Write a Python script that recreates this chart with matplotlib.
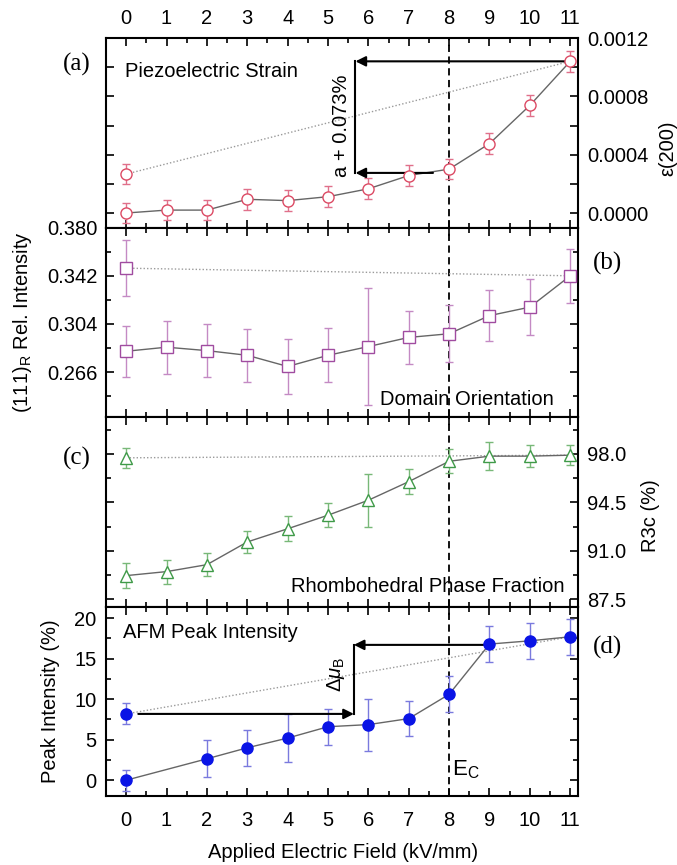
import matplotlib
matplotlib.use("Agg")
import matplotlib.pyplot as plt
from matplotlib.ticker import FixedLocator, FormatStrFormatter, MultipleLocator

plt.rcParams['font.family'] = ['Liberation Sans', 'DejaVu Sans']
plt.rcParams['mathtext.fontset'] = 'custom'
plt.rcParams['mathtext.rm'] = 'Liberation Sans'
plt.rcParams['mathtext.it'] = 'Liberation Sans:italic'

# applied field (kV/mm)
field = [0, 1, 2, 3, 4, 5, 6, 7, 8, 9, 10, 11]

# (a) piezoelectric strain eps(200)
strain = [0.0, 0.00002, 0.00002, 0.000094, 0.000085, 0.000112, 0.000166,
          0.000257, 0.000301, 0.000476, 0.000738, 0.00104]
strain_err = [0.000066, 0.00007, 0.00007, 0.000072, 0.000072, 0.000072,
              0.000072, 0.00007, 0.00007, 0.00007, 0.00007, 0.00007]
strain_ref, strain_ref_err = 0.000267, 0.000069

# (b) (111)_R relative intensity
rel_int = [0.2825, 0.2857, 0.2830, 0.2793, 0.2705, 0.2793, 0.2862,
           0.2934, 0.2963, 0.3106, 0.3173, 0.3420]
rel_err = [0.020, 0.021, 0.021, 0.021, 0.0214, 0.0213, 0.046,
           0.021, 0.0225, 0.020, 0.0218, 0.0213]
rel_ref, rel_ref_err = 0.348, 0.022

# (c) R3c phase fraction (%)
r3c = [89.21, 89.5, 90.0, 91.64, 92.59, 93.57, 94.65, 95.99, 97.46, 97.83, 97.83, 97.9]
r3c_err = [0.88, 0.86, 0.84, 0.78, 0.9, 0.88, 1.9, 0.9, 0.87, 1.03, 0.8, 0.7]
r3c_ref, r3c_ref_err = 97.71, 0.7

# (d) AFM peak intensity (%) -- no point at 1 kV/mm
afm_field = [0, 2, 3, 4, 5, 6, 7, 8, 9, 10, 11]
afm = [0.0, 2.64, 4.0, 5.2, 6.6, 6.86, 7.6, 10.6, 16.8, 17.2, 17.7]
afm_err = [1.3, 2.3, 2.2, 3.0, 2.2, 3.2, 2.2, 2.2, 2.2, 2.2, 2.2]
afm_ref, afm_ref_err = 8.18, 1.3

E_C = 8

W, H = 677, 865
left, right, top0 = 106, 577.5, 38
ph = 189.6
fig = plt.figure(figsize=(W / 100, H / 100), dpi=100)

axes = []
for i in range(4):
    t = top0 + i * ph
    ax = fig.add_axes([left / W, 1 - (t + ph) / H, (right - left) / W, ph / H])
    axes.append(ax)

line_c = '#666666'
dot_c = '#9a9a9a'
fs = 14.5

for ax in axes:
    ax.set_xlim(-0.5, 11.18)
    ax.set_xticks(field)
    ax.xaxis.set_minor_locator(MultipleLocator(0.5))
    ax.tick_params(which='both', direction='in', top=True, bottom=True,
                   left=True, right=True, labelbottom=False, labeltop=False,
                   labelleft=False, labelright=False, width=1.2, labelsize=fs)
    ax.tick_params(which='major', length=6)
    ax.tick_params(which='minor', length=3.5)
    for s in ax.spines.values():
        s.set_linewidth(1.5)
    ax.axvline(E_C, color='k', ls=(0, (4, 2.5)), lw=1.3, zorder=1)


def draw(ax, x, y, yerr, ref, ref_err, marker, col, ecol, fill):
    ax.plot([0, x[-1]], [ref, y[-1]], ls=(0, (1, 1.5)), color=dot_c, lw=1, zorder=2)
    ax.plot(x, y, color=line_c, lw=1, zorder=2)
    face = col if fill else 'white'
    ax.errorbar(x, y, yerr=yerr, fmt=marker, ms=8, mfc=face, mec=col, mew=1,
                ecolor=ecol, elinewidth=1, capsize=3, capthick=1, zorder=3)
    ax.errorbar([0], [ref], yerr=[ref_err], fmt=marker, ms=8, mfc=face, mec=col,
                mew=1, ecolor=ecol, elinewidth=1, capsize=3, capthick=1, zorder=3)


arrow = dict(arrowstyle='-|>', color='k', lw=1.5, mutation_scale=15,
             shrinkA=0, shrinkB=0)

# (a)
ax = axes[0]
draw(ax, field, strain, strain_err, strain_ref, strain_ref_err, 'o',
     '#dc4a64', '#e0708a', False)
ax.set_ylim(-0.0001, 0.0012)
ax.yaxis.set_major_locator(FixedLocator([0, 0.0004, 0.0008, 0.0012]))
ax.yaxis.set_minor_locator(FixedLocator([0.0002, 0.0006, 0.0010]))
ax.yaxis.set_major_formatter(FormatStrFormatter('%.4f'))
ax.tick_params(which='minor', axis='y', length=6)
ax.tick_params(labelright=True, labeltop=True, pad=7)
ax.set_ylabel('ε(200)', fontsize=fs)
ax.yaxis.set_label_position('right')
ax.yaxis.set_label_coords(1.172, 0.42)
xv = 5.68
ax.annotate('', xy=(xv, strain[-1]), xytext=(11, strain[-1]), arrowprops=arrow)
ax.annotate('', xy=(xv, 0.000275), xytext=(7.6, 0.000275), arrowprops=arrow)
ax.plot([xv, xv], [0.000275, strain[-1]], color='k', lw=1.5)
ax.text(5.34, 0.0006, 'a + 0.073%', rotation=90, ha='center', va='center', fontsize=fs)
ax.text(-0.02, 0.00097, 'Piezoelectric Strain', ha='left', va='center', fontsize=fs)

# (b)
ax = axes[1]
draw(ax, field, rel_int, rel_err, rel_ref, rel_ref_err, 's',
     '#a04ca0', '#c48ac4', False)
ax.set_ylim(0.2305, 0.380)
ax.yaxis.set_major_locator(FixedLocator([0.266, 0.304, 0.342, 0.380]))
ax.yaxis.set_minor_locator(FixedLocator([0.247, 0.285, 0.323, 0.361]))
ax.yaxis.set_major_formatter(FormatStrFormatter('%.3f'))
ax.tick_params(labelleft=True, pad=6)
ax.set_ylabel('(111)$_\\mathrm{R}$ Rel. Intensity', fontsize=fs)
ax.yaxis.set_label_coords(-0.1527, 0.5)
ax.text(10.59, 0.2448, 'Domain Orientation', ha='right', va='center', fontsize=fs)

# (c)
ax = axes[2]
draw(ax, field, r3c, r3c_err, r3c_ref, r3c_ref_err, '^',
     '#3f9a48', '#78b878', False)
ax.set_ylim(86.96, 100.64)
ax.yaxis.set_major_locator(FixedLocator([87.5, 91.0, 94.5, 98.0]))
ax.yaxis.set_minor_locator(FixedLocator([89.25, 92.75, 96.25, 99.75]))
ax.yaxis.set_major_formatter(FormatStrFormatter('%.1f'))
ax.tick_params(labelright=True, pad=7)
ax.set_ylabel('R3c (%)', fontsize=fs)
ax.yaxis.set_label_position('right')
ax.yaxis.set_label_coords(1.135, 0.48)
ax.text(10.86, 88.43, 'Rhombohedral Phase Fraction', ha='right', va='center', fontsize=fs)

# (d)
ax = axes[3]
draw(ax, afm_field, afm, afm_err, afm_ref, afm_ref_err, 'o',
     '#0a14e6', '#7a7ade', True)
ax.set_ylim(-2.0, 21.4)
ax.yaxis.set_major_locator(FixedLocator([0, 5, 10, 15, 20]))
ax.yaxis.set_minor_locator(FixedLocator([2.5, 7.5, 12.5, 17.5]))
ax.tick_params(labelleft=True, labelbottom=True, pad=7)
ax.tick_params(axis='x', pad=10.5)
ax.set_ylabel('Peak Intensity (%)', fontsize=fs)
ax.yaxis.set_label_coords(-0.0986, 0.5)
ax.set_xlabel('Applied Electric Field (kV/mm)', fontsize=fs)
ax.xaxis.set_label_coords(0.503, -0.245)
xv = 5.64
ax.annotate('', xy=(xv, afm_ref), xytext=(0.3, afm_ref), arrowprops=arrow)
ax.annotate('', xy=(xv, 16.7), xytext=(8.9, 16.7), arrowprops=arrow)
ax.plot([xv, xv], [afm_ref, 16.7], color='k', lw=1.5)
ax.text(5.2, 13.0, '$\\Delta\\mu_\\mathrm{B}$', rotation=90, ha='center', va='center', fontsize=fs)
ax.text(-0.08, 18.2, 'AFM Peak Intensity', ha='left', va='center', fontsize=fs)
ax.text(8.07, 1.3, 'E$_\\mathrm{C}$', ha='left', va='center', fontsize=16)

# panel letters
serif = ['Liberation Serif', 'DejaVu Serif']
fig.text(77 / W, 1 - 64 / H, '(a)', family=serif, fontsize=18, ha='center', va='center')
fig.text(607 / W, 1 - 263 / H, '(b)', family=serif, fontsize=18, ha='center', va='center')
fig.text(77 / W, 1 - 458 / H, '(c)', family=serif, fontsize=18, ha='center', va='center')
fig.text(608 / W, 1 - 647 / H, '(d)', family=serif, fontsize=18, ha='center', va='center')

fig.savefig('out.png', dpi=100)
